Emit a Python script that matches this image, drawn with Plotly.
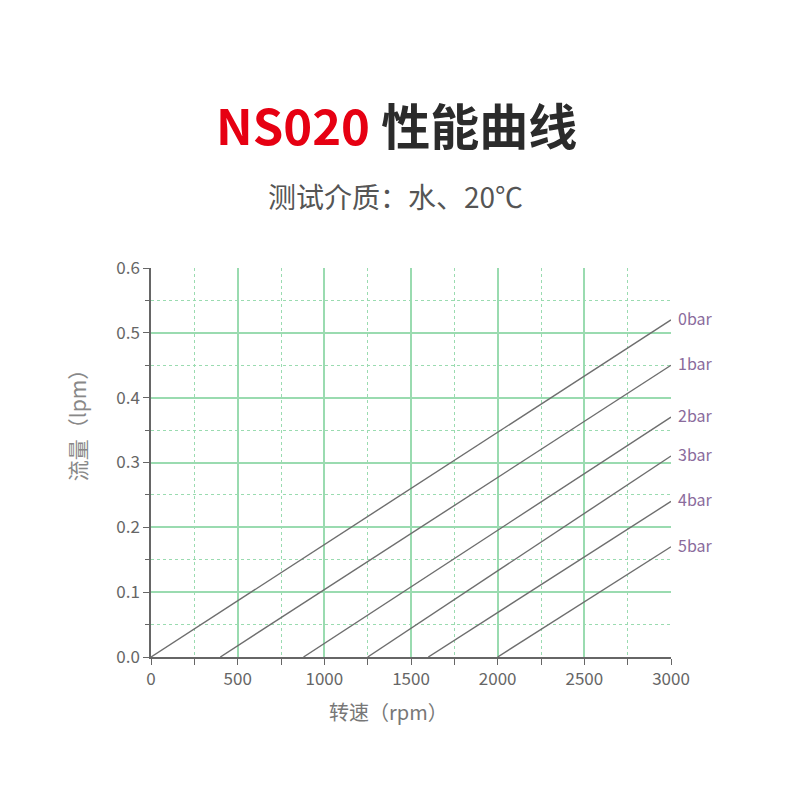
import plotly.graph_objects as go

# pressure curves: start speed (flow = 0) and flow at 3000 rpm
curve_names = ["0bar", "1bar", "2bar", "3bar", "4bar", "5bar"]
start_rpm = [0, 400, 880, 1250, 1600, 2000]
end_rpm = [3000, 3000, 3000, 3000, 3000, 3000]
end_flow = [0.52, 0.45, 0.37, 0.31, 0.24, 0.17]

x_ticks = [0, 500, 1000, 1500, 2000, 2500, 3000]
y_ticks = [0.0, 0.1, 0.2, 0.3, 0.4, 0.5, 0.6]

FONT = "Noto Sans CJK SC"
GREEN = "#9adbb0"
AXIS = "#666666"

TOP, BOTTOM = 260, 151
plot_h = 800 - TOP - BOTTOM

fig = go.Figure()

for name, x0, x1, y1 in zip(curve_names, start_rpm, end_rpm, end_flow):
    fig.add_trace(
        go.Scatter(
            x=[x0, x1],
            y=[0, y1],
            mode="lines",
            line=dict(color="#6e6e6e", width=1.4),
            showlegend=False,
            hoverinfo="skip",
        )
    )
    fig.add_annotation(
        x=x1,
        y=y1,
        text=name,
        showarrow=False,
        xanchor="left",
        yanchor="middle",
        xshift=5,
        yshift=2,
        font=dict(family=FONT, size=16, color="#8a6b9c"),
    )

# title and subtitle
fig.add_annotation(
    x=0.5,
    y=1 + (TOP - 115) / plot_h,
    xref="paper",
    yref="paper",
    text="<b><span style='color:#e60012'>NS020</span> 性能曲线</b>",
    showarrow=False,
    yanchor="middle",
    xshift=-15,
    font=dict(family=FONT, size=49, color="#2b2b2b"),
)
fig.add_annotation(
    x=0.5,
    y=1 + (TOP - 188) / plot_h,
    xref="paper",
    yref="paper",
    text="测试介质：水、20℃",
    showarrow=False,
    yanchor="middle",
    xshift=-16,
    font=dict(family=FONT, size=28, color="#555555"),
)

# axis titles, placed like the original (a bit off-centre)
fig.add_annotation(
    x=0.456,
    y=-0.141,
    xref="paper",
    yref="paper",
    text="转速（rpm）",
    showarrow=False,
    xanchor="center",
    yanchor="middle",
    font=dict(family=FONT, size=20, color="#777777"),
)
fig.add_annotation(
    x=-0.142,
    y=0.609,
    xref="paper",
    yref="paper",
    text="流量（lpm）",
    textangle=-90,
    showarrow=False,
    xanchor="center",
    yanchor="middle",
    font=dict(family=FONT, size=21, color="#888888"),
)

fig.update_layout(
    width=800,
    height=800,
    paper_bgcolor="white",
    plot_bgcolor="white",
    margin=dict(l=143, r=137, t=TOP, b=BOTTOM, pad=0),
    font=dict(family=FONT, size=17, color="#666666"),
)

fig.update_xaxes(
    range=[0, 3000],
    tickvals=x_ticks,
    ticktext=[str(v) for v in x_ticks],
    showline=True,
    linecolor=AXIS,
    linewidth=1.5,
    ticks="outside",
    ticklen=6,
    tickcolor=AXIS,
    showgrid=True,
    gridcolor=GREEN,
    gridwidth=1.6,
    zeroline=False,
    minor=dict(
        dtick=250,
        ticks="outside",
        ticklen=6,
        tickcolor=AXIS,
        showgrid=True,
        gridcolor=GREEN,
        griddash="dot",
        gridwidth=1.2,
    ),
    tickfont=dict(size=17, color="#666666"),
)

fig.update_yaxes(
    range=[0, 0.6],
    tickvals=y_ticks,
    ticktext=["%.1f" % v for v in y_ticks],
    showline=True,
    linecolor=AXIS,
    linewidth=1.5,
    ticks="outside",
    ticklen=6,
    tickcolor=AXIS,
    showgrid=True,
    gridcolor=GREEN,
    gridwidth=1.6,
    zeroline=False,
    minor=dict(
        dtick=0.05,
        ticks="outside",
        ticklen=4,
        tickcolor=AXIS,
        showgrid=True,
        gridcolor=GREEN,
        griddash="dot",
        gridwidth=1.2,
    ),
    tickfont=dict(size=17, color="#666666"),
)

fig.write_html("out.html")
